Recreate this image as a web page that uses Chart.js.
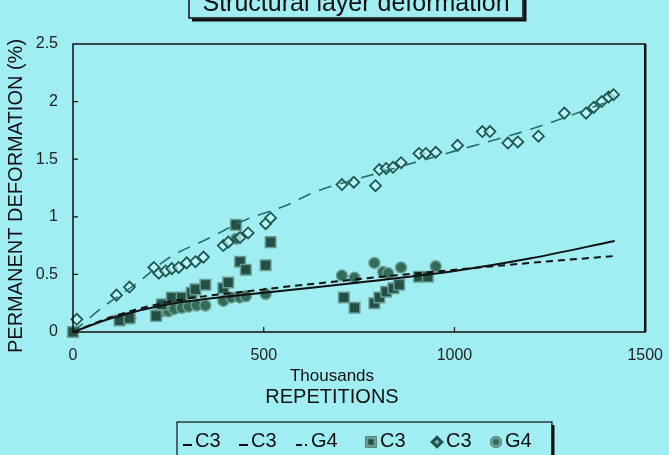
<!DOCTYPE html>
<html>
<head>
<meta charset="utf-8">
<title>Structural layer deformation</title>
<script src="https://cdn.jsdelivr.net/npm/chart.js@4.4.1/dist/chart.umd.min.js"></script>
<style>
  html, body { margin: 0; padding: 0; background: #a0eef2; }
  #deformChart { display: block; }
</style>
</head>
<body>
<canvas id="deformChart" width="669" height="455" style="width:669px;height:455px"></canvas>
<script>
// Chart values (x in thousands of repetitions, y in %)

const chartTitle = 'Structural layer deformation';
const yAxisTitle = 'PERMANENT DEFORMATION (%)';
const xAxisUnit = 'Thousands';
const xAxisTitle = 'REPETITIONS';

const xTickValues = [0, 500, 1000, 1500];
const yTickValues = [0, 0.5, 1, 1.5, 2, 2.5];

// fitted lines
const c3SolidX = [0, 100, 250, 500, 750, 1000, 1200, 1420];
const c3SolidY = [0, 0.12, 0.24, 0.34, 0.43, 0.53, 0.64, 0.79];

const c3DashedX = [0, 80, 170, 250, 360, 450, 560, 630, 800, 1000, 1200, 1420];
const c3DashedY = [0, 0.22, 0.43, 0.64, 0.82, 0.97, 1.10, 1.21, 1.38, 1.57, 1.76, 2.02];

const g4DashedX = [0, 100, 250, 500, 750, 1000, 1200, 1420];
const g4DashedY = [0, 0.13, 0.26, 0.37, 0.46, 0.54, 0.60, 0.66];

// measured points
const c3SquareX = [0, 122, 148, 218, 233, 259, 285, 311, 321, 347, 394, 407, 427, 438, 453, 505, 518,
  710, 738, 790, 803, 821, 840, 855, 907, 930];
const c3SquareY = [0, 0.10, 0.12, 0.14, 0.24, 0.30, 0.30, 0.34, 0.37, 0.41, 0.38, 0.43, 0.93, 0.61, 0.54, 0.58, 0.78,
  0.30, 0.21, 0.25, 0.30, 0.35, 0.38, 0.41, 0.48, 0.48];

const c3DiamondX = [10, 114, 148, 212, 225, 243, 259, 277, 298, 321, 342, 394, 407, 438, 459, 505, 518,
  705, 736, 793, 803, 821, 839, 860, 907, 925, 951, 1008, 1073, 1093, 1140, 1166, 1220,
  1288, 1345, 1365, 1386, 1404, 1417];
const c3DiamondY = [0.11, 0.32, 0.39, 0.56, 0.51, 0.53, 0.55, 0.56, 0.60, 0.61, 0.65, 0.75, 0.78, 0.82, 0.86, 0.94, 0.99,
  1.28, 1.30, 1.27, 1.41, 1.42, 1.43, 1.47, 1.55, 1.55, 1.56, 1.62, 1.74, 1.74, 1.64, 1.65, 1.70,
  1.90, 1.90, 1.95, 2.00, 2.04, 2.06];

const g4CircleX = [130, 150, 218, 233, 250, 265, 285, 303, 324, 347, 394, 415, 437, 453, 505, 428,
  705, 738, 790, 813, 826, 860, 951];
const g4CircleY = [0.11, 0.12, 0.15, 0.18, 0.18, 0.20, 0.21, 0.22, 0.23, 0.23, 0.27, 0.30, 0.30, 0.31, 0.33, 0.81,
  0.49, 0.47, 0.60, 0.52, 0.51, 0.56, 0.57];

// colours
const bgColor = '#a0eef2';
const inkColor = '#111111';
const tealLine = '#2a6e6c';
const squareFill = '#234f44';
const squareEdge = '#6a9c92';
const circleFill = '#336b5a';
const circleEdge = '#6aa093';
const diamondEdge = '#1d5752';
const diamondFill = 'rgba(200,248,248,0.7)';

const fontFamily = '"Liberation Sans", Arial, sans-serif';

function toPoints(xs, ys) {
  return xs.map((x, i) => ({ x: x, y: ys[i] }));
}

const lineDatasets = [
  {
    label: 'C3', type: 'line', data: toPoints(c3SolidX, c3SolidY),
    borderColor: inkColor, borderWidth: 2, borderDash: [],
    pointRadius: 0, cubicInterpolationMode: 'monotone', fill: false, clip: false
  },
  {
    label: 'C3', type: 'line', data: toPoints(c3DashedX, c3DashedY),
    borderColor: tealLine, borderWidth: 1.6, borderDash: [13, 9],
    pointRadius: 0, cubicInterpolationMode: 'monotone', fill: false, clip: false
  },
  {
    label: 'G4', type: 'line', data: toPoints(g4DashedX, g4DashedY),
    borderColor: inkColor, borderWidth: 2, borderDash: [7, 5],
    pointRadius: 0, cubicInterpolationMode: 'monotone', fill: false, clip: false
  }
];

const pointDatasets = [
  {
    label: 'C3', data: toPoints(c3SquareX, c3SquareY),
    pointStyle: 'rect', pointRadius: 7.5, backgroundColor: squareFill,
    borderColor: squareEdge, borderWidth: 1.5, clip: false
  },
  {
    label: 'C3', data: toPoints(c3DiamondX, c3DiamondY),
    pointStyle: 'rectRot', pointRadius: 5.5, backgroundColor: diamondFill,
    borderColor: diamondEdge, borderWidth: 1.8, clip: false
  },
  {
    label: 'G4', data: toPoints(g4CircleX, g4CircleY),
    pointStyle: 'circle', pointRadius: 5.5, backgroundColor: circleFill,
    borderColor: circleEdge, borderWidth: 1.5, clip: false
  }
];

// Draws background, frame, inward ticks, title box, axis titles and legend box
const decorPlugin = {
  id: 'decor',
  beforeDraw(chart) {
    const ctx = chart.ctx;
    ctx.save();
    ctx.fillStyle = bgColor;
    ctx.fillRect(0, 0, chart.width, chart.height);
    ctx.restore();
  },
  afterDraw(chart) {
    const ctx = chart.ctx;
    const area = chart.chartArea;
    const xs = chart.scales.x;
    const ys = chart.scales.y;
    ctx.save();

    // plot frame
    ctx.strokeStyle = inkColor;
    ctx.lineWidth = 1.5;
    ctx.strokeRect(area.left, area.top, area.right - area.left, area.bottom - area.top);
    ctx.lineWidth = 2.5;
    ctx.beginPath();
    ctx.moveTo(area.right, area.top);
    ctx.lineTo(area.right, area.bottom);
    ctx.stroke();

    // inward ticks
    ctx.lineWidth = 1.2;
    ctx.beginPath();
    xTickValues.slice(1, -1).forEach(v => {
      const px = xs.getPixelForValue(v);
      ctx.moveTo(px, area.bottom);
      ctx.lineTo(px, area.bottom - 5);
    });
    yTickValues.slice(1, -1).forEach(v => {
      const py = ys.getPixelForValue(v);
      ctx.moveTo(area.left, py);
      ctx.lineTo(area.left + 5, py);
    });
    ctx.stroke();

    // title box, clipped at the top edge like the original
    ctx.font = '25px ' + fontFamily;
    ctx.textAlign = 'center';
    ctx.textBaseline = 'alphabetic';
    ctx.fillStyle = inkColor;
    ctx.fillText(chartTitle, 356, 11);
    ctx.lineWidth = 1.5;
    ctx.strokeRect(189, -12, 334, 30);
    ctx.lineWidth = 3;
    ctx.beginPath();
    ctx.moveTo(192, 20);
    ctx.lineTo(525, 20);
    ctx.lineTo(525, -12);
    ctx.stroke();

    // y axis title
    ctx.save();
    ctx.translate(16, 196);
    ctx.rotate(-Math.PI / 2);
    ctx.font = '20px ' + fontFamily;
    ctx.textBaseline = 'middle';
    ctx.fillText(yAxisTitle, 0, 0);
    ctx.restore();

    // x axis titles
    const midX = 332;
    ctx.textBaseline = 'middle';
    ctx.font = '17px ' + fontFamily;
    ctx.fillText(xAxisUnit, midX, 376);
    ctx.font = '20px ' + fontFamily;
    ctx.fillText(xAxisTitle, midX, 397);

    // legend box
    const boxL = 177, boxT = 422, boxR = 552, boxB = 460;
    ctx.lineWidth = 1.2;
    ctx.strokeRect(boxL, boxT, boxR - boxL, boxB - boxT);
    ctx.lineWidth = 3;
    ctx.beginPath();
    ctx.moveTo(boxR + 1, boxT + 3);
    ctx.lineTo(boxR + 1, boxB);
    ctx.stroke();

    ctx.font = '20px ' + fontFamily;
    ctx.textAlign = 'left';
    ctx.textBaseline = 'alphabetic';
    const baseY = 447;
    const legendStarts = [183, 239, 296, 366, 432, 491];
    const datasets = chart.data.datasets;
    datasets.forEach((ds, i) => {
      let x = legendStarts[i];
      ctx.save();
      if (ds.type === 'line') {
        ctx.strokeStyle = inkColor;
        ctx.lineWidth = 2;
        ctx.beginPath();
        if (i === 2) {
          ctx.moveTo(x, baseY - 2);
          ctx.lineTo(x + 6, baseY - 2);
          ctx.moveTo(x + 9, baseY - 2);
          ctx.lineTo(x + 11, baseY - 2);
          ctx.stroke();
          x += 15;
        } else {
          ctx.moveTo(x, baseY - 2);
          ctx.lineTo(x + 9, baseY - 2);
          ctx.stroke();
          x += 12;
        }
      } else {
        Chart.helpers.drawPoint(ctx, {
          pointStyle: ds.pointStyle,
          radius: ds.pointStyle === 'rect' ? 6 : 4.5,
          borderWidth: ds.borderWidth,
          rotation: 0
        }, x + 5, baseY - 5);
        ctx.fillStyle = ds.backgroundColor;
        ctx.strokeStyle = ds.borderColor;
        ctx.fill();
        ctx.stroke();
        x += 14;
      }
      ctx.restore();
      ctx.fillStyle = inkColor;
      ctx.fillText(ds.label, x, baseY);
    });

    ctx.restore();
  }
};

const chartConfig = {
  type: 'scatter',
  data: {
    datasets: lineDatasets.concat(pointDatasets)
  },
  options: {
    responsive: false,
    animation: false,
    events: [],
    layout: {
      padding: { top: 44, right: 17, left: 0, bottom: 0 }
    },
    plugins: {
      legend: { display: false },
      tooltip: { enabled: false },
      title: { display: false }
    },
    scales: {
      x: {
        type: 'linear',
        min: 0,
        max: 1500,
        grid: { display: false },
        border: { display: false },
        afterBuildTicks: s => { s.ticks = xTickValues.map(v => ({ value: v })); },
        afterFit: s => { s.height = 123; },
        ticks: {
          padding: 6,
          color: '#222222',
          maxRotation: 0,
          font: { family: fontFamily, size: 16 },
          callback: v => String(v)
        }
      },
      y: {
        type: 'linear',
        min: 0,
        max: 2.5,
        grid: { display: false },
        border: { display: false },
        afterBuildTicks: s => { s.ticks = yTickValues.map(v => ({ value: v })); },
        afterFit: s => { s.width = 73; },
        ticks: {
          padding: 7,
          color: '#222222',
          font: { family: fontFamily, size: 16 },
          callback: v => String(v)
        }
      }
    }
  },
  plugins: [decorPlugin]
};

new Chart(document.getElementById('deformChart'), chartConfig);
</script>
</body>
</html>
